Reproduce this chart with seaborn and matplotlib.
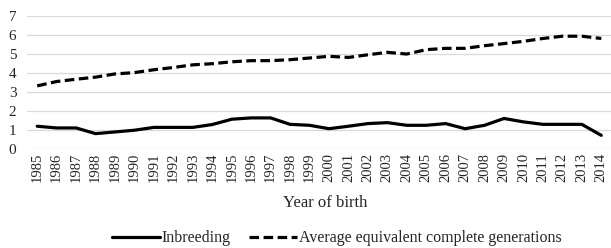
import pandas as pd
import seaborn as sns
import matplotlib.pyplot as plt

# values
years = list(range(1985, 2015))
inbreeding = [1.19, 1.10, 1.10, 0.80, 0.89, 0.98, 1.13, 1.13, 1.13, 1.28,
              1.56, 1.63, 1.63, 1.29, 1.24, 1.06, 1.19, 1.33, 1.38, 1.24,
              1.24, 1.33, 1.06, 1.24, 1.60, 1.42, 1.29, 1.29, 1.29, 0.71]
equiv_gen = [3.32, 3.55, 3.67, 3.78, 3.95, 4.02, 4.17, 4.29, 4.43, 4.49,
             4.59, 4.65, 4.65, 4.70, 4.79, 4.88, 4.82, 4.96, 5.09, 5.00,
             5.23, 5.30, 5.30, 5.44, 5.55, 5.67, 5.82, 5.94, 5.94, 5.82]
series_names = ["Inbreeding", "Average equivalent complete generations"]

df = pd.DataFrame({"year": years, series_names[0]: inbreeding, series_names[1]: equiv_gen})
long = df.melt(id_vars="year", var_name="series", value_name="value")
long["pos"] = long["year"] - years[0]

sns.set_style("white")
plt.rcParams["font.family"] = ["Liberation Serif", "DejaVu Serif"]

fig = plt.figure(figsize=(6.11, 2.48), dpi=100)
ax = fig.add_axes([0.045, 0.40, 0.955, 0.535])

sns.lineplot(data=long, x="pos", y="value", style="series", style_order=series_names,
             dashes={series_names[0]: "", series_names[1]: (3, 1.4)},
             color="black", linewidth=2.3, ax=ax, legend=True)

ax.set_xlim(-0.5, len(years) - 0.5)
ax.set_ylim(0, 7)
ax.set_yticks(range(0, 8))
ax.set_xticks(range(len(years)))
ax.set_xticklabels([str(y) for y in years], rotation=90, fontsize=10.5)
ax.tick_params(axis="y", labelsize=11, length=0, pad=8)
ax.tick_params(axis="x", length=0, pad=3)
ax.yaxis.grid(True, color="#d9d9d9", linewidth=0.9)
for s in ax.spines.values():
    s.set_visible(False)
ax.set_xlabel("Year of birth", fontsize=12)
ax.xaxis.set_label_coords(0.51, -0.345)
ax.set_ylabel("")

handles, labels = ax.get_legend_handles_labels()
ax.legend(handles, labels, loc="upper center", bbox_to_anchor=(0.53, -0.505),
          ncol=2, frameon=False, fontsize=11.5, handlelength=3.0,
          handletextpad=0.1, columnspacing=1.2)

fig.savefig("out.png", dpi=100)
